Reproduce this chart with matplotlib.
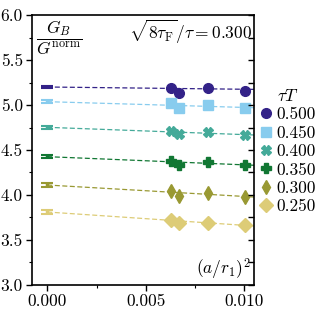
import numpy as np
import matplotlib
matplotlib.use("Agg")
import matplotlib.pyplot as plt

plt.rcParams['font.family'] = 'serif'
plt.rcParams['font.serif'] = ['cmr10']
plt.rcParams['mathtext.fontset'] = 'cm'
plt.rcParams['axes.formatter.use_mathtext'] = True
plt.rcParams['axes.unicode_minus'] = False

# lattice spacings (a/r1)^2
x_lat = [0.00628, 0.00670, 0.00814, 0.01003]

tauT = ['0.500', '0.450', '0.400', '0.350', '0.300', '0.250']
y_lat = [
    [5.186, 5.137, 5.186, 5.156],
    [5.026, 4.972, 5.000, 4.972],
    [4.714, 4.674, 4.703, 4.667],
    [4.381, 4.336, 4.367, 4.330],
    [4.048, 3.989, 4.019, 3.974],
    [3.726, 3.692, 3.685, 3.667],
]
# continuum extrapolation at (a/r1)^2 = 0
y_cont = [5.200, 5.037, 4.752, 4.426, 4.111, 3.811]
y_cont_err = [0.012, 0.018, 0.018, 0.016, 0.024, 0.026]
fit_slope = [-2.5, -6.4, -8.1, -9.1, -12.7, -14.8]

colors = ['#332288', '#88CCEE', '#44AA99', '#117733', '#999933', '#DDCC77']
markers = ['o', 's', 'X', 'P', 'd', 'D']

fig = plt.figure(figsize=(3.18, 3.18), dpi=100)
ax = fig.add_axes([0.1006, 0.1038, 0.698, 0.849])

xfit = np.array([0.0, 0.0106])
for i in range(len(tauT)):
    c = colors[i]
    ax.plot(xfit, y_cont[i] + fit_slope[i] * xfit, ls='--', color=c, lw=0.9,
            dashes=(4, 2), zorder=1)
    ax.errorbar([0.0], [y_cont[i]], yerr=[y_cont_err[i]], fmt='none', ecolor=c,
                elinewidth=2.5, capsize=4, capthick=1.5, zorder=2)
    ax.plot(x_lat, y_lat[i], ls='none', marker=markers[i], color=c,
            markersize=7.5 if markers[i] in ('d', 'D') else 7, label=tauT[i], zorder=3)

ax.set_xlim(-0.00078, 0.0105)
ax.set_ylim(3.0, 6.0)
ax.set_xticks([0.0, 0.005, 0.010])
ax.set_xticklabels(['0.000', '0.005', '0.010'])
ax.set_xticks([0.0025, 0.0075], minor=True)
ax.set_yticks(np.arange(3.0, 6.01, 0.5))
ax.set_yticklabels(['%.1f' % v for v in np.arange(3.0, 6.01, 0.5)])
ax.set_yticks(np.arange(3.25, 6.0, 0.5), minor=True)
ax.tick_params(which='major', direction='out', length=4, width=1, labelsize=12.5,
               pad=2.5, top=False, right=False)
ax.tick_params(which='minor', direction='out', length=2.5, width=0.8,
               top=False, right=False)
for s in ax.spines.values():
    s.set_linewidth(1.2)

ax2 = ax.twinx()
ax2.set_ylim(3.0, 6.0)
ax2.set_yticks(np.arange(3.0, 6.01, 0.25))
ax2.tick_params(direction='in', length=4, width=1, labelright=False)
for s in ax2.spines.values():
    s.set_visible(False)

ax.text(0.02, 0.985, r'$\dfrac{G_B}{G^{\rm norm}}$', transform=ax.transAxes,
        ha='left', va='top', fontsize=12.5)
ax.text(0.99, 0.99, r'$\sqrt{8\tau_{\rm F}}/\tau = 0.300$', transform=ax.transAxes,
        ha='right', va='top', fontsize=12.5)
ax.text(0.985, 0.012, r'$(a/r_1)^2$', transform=ax.transAxes,
        ha='right', va='bottom', fontsize=12.5)

leg = ax.legend(title=r'$\tau T$', loc='upper left', bbox_to_anchor=(1.0, 0.75),
                frameon=False, fontsize=12.5, title_fontsize=12.5, handlelength=0.8,
                handletextpad=0.2, labelspacing=0.18, borderaxespad=0.2,
                borderpad=0.1)

fig.savefig('out.png', dpi=100)
